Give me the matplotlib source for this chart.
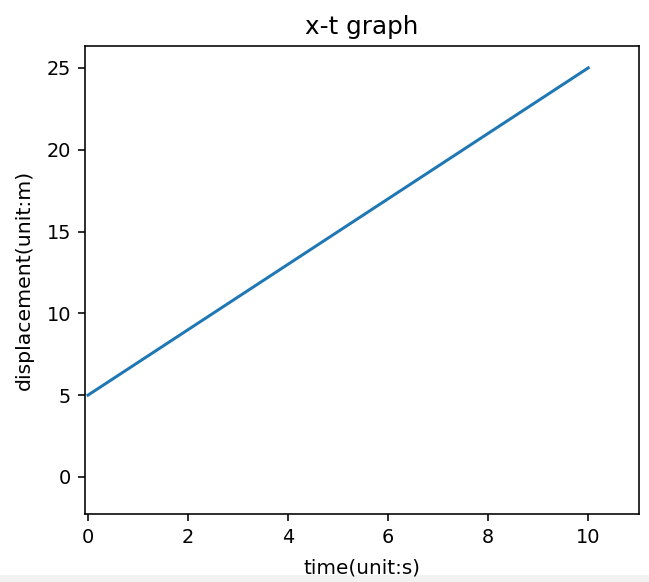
import matplotlib.pyplot as plt
from matplotlib.patches import Rectangle

t = [0, 10]
x = [5, 25]

fig = plt.figure(figsize=(649 / 144, 582 / 144), dpi=144)
ax = fig.add_axes([0.131, 0.117, 0.854, 0.804])
ax.plot(t, x, color='#1f77b4')
ax.set_xlim(-0.06, 11.02)
ax.set_ylim(-2.26, 26.34)
ax.set_xticks([0, 2, 4, 6, 8, 10])
ax.set_yticks([0, 5, 10, 15, 20, 25])
ax.tick_params(labelsize=9.6)
ax.set_title('x-t graph', fontsize=12.3)
ax.set_xlabel('time(unit:s)', labelpad=6)
ax.set_ylabel('displacement(unit:m)', fontsize=10.2, labelpad=6.5)

# light strip along the bottom edge of the screenshot
fig.patches.append(Rectangle((0, 0), 1, 0.01, transform=fig.transFigure,
                             color='#f2f2f2', zorder=-1))

fig.savefig('out.png', dpi=144)
